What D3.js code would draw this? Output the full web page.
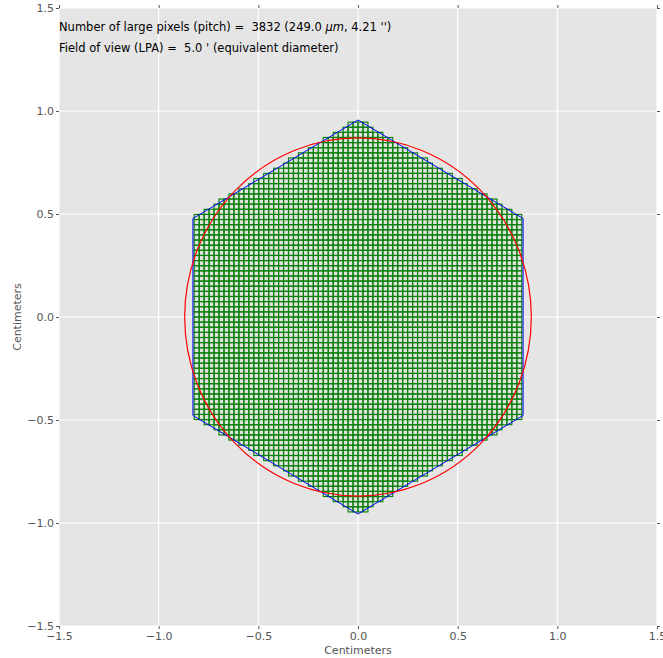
<!DOCTYPE html>
<html>
<head>
<meta charset="utf-8">
<script src="https://cdn.jsdelivr.net/npm/d3@7"></script>
<style>
  body { margin: 0; background: #fff; }
  text { font-family: "DejaVu Sans", sans-serif; }
</style>
</head>
<body>
<svg id="chart" width="663" height="658"></svg>
<script>

// chart values
var xTicks = [-1.5, -1.0, -0.5, 0.0, 0.5, 1.0, 1.5];
var yTicks = [-1.5, -1.0, -0.5, 0.0, 0.5, 1.0, 1.5];
var pitchCm = 0.0249;        // pixel pitch in cm
var hexRadius = 0.9563;      // LPA hexagon, centre to corner (cm)
var circleRadius = 0.8695;   // equivalent diameter circle (cm)
var hexAngles = [90, 150, 210, 270, 330, 30];
var nPixels = 3832;
var pitchUm = '249.0';
var pitchArcsec = '4.21';
var fovArcmin = '5.0';

var margin = {left: 59, right: 6, top: 8, bottom: 32};
var W = 663, H = 658;
var svg = d3.select('#chart');

var x = d3.scaleLinear().domain([-1.5, 1.5]).range([margin.left, W - margin.right]);
var y = d3.scaleLinear().domain([-1.5, 1.5]).range([H - margin.bottom, margin.top]);

var fmt = function(d) { return d3.format('.1f')(d).replace('-', '\u2212'); };

// background
svg.append('rect')
  .attr('x', x(-1.5)).attr('y', y(1.5))
  .attr('width', x(1.5) - x(-1.5)).attr('height', y(-1.5) - y(1.5))
  .attr('fill', '#e5e5e5');

// grid
var grid = svg.append('g');
grid.selectAll('.vx').data(xTicks).enter().append('line')
  .attr('x1', function(d) { return x(d); }).attr('x2', function(d) { return x(d); })
  .attr('y1', y(1.5)).attr('y2', y(-1.5))
  .attr('stroke', '#fff').attr('stroke-width', 1.2);
grid.selectAll('.hy').data(yTicks).enter().append('line')
  .attr('y1', function(d) { return y(d); }).attr('y2', function(d) { return y(d); })
  .attr('x1', x(-1.5)).attr('x2', x(1.5))
  .attr('stroke', '#fff').attr('stroke-width', 1.2);

// axes (ticks out, no spine)
function styleAxis(g) {
  g.select('.domain').remove();
  g.selectAll('.tick line').attr('stroke', '#555');
  g.selectAll('.tick text').attr('fill', '#555').style('font-family', 'DejaVu Sans').style('font-size', '11px');
}
svg.append('g').attr('transform', 'translate(0,' + y(-1.5) + ')')
  .call(d3.axisBottom(x).tickValues(xTicks).tickFormat(fmt).tickSize(3).tickPadding(3))
  .call(styleAxis);
svg.append('g').attr('transform', 'translate(' + x(-1.5) + ',0)')
  .call(d3.axisLeft(y).tickValues(yTicks).tickFormat(fmt).tickSize(3).tickPadding(2))
  .call(styleAxis);
svg.append('g').attr('transform', 'translate(0,' + y(1.5) + ')')
  .call(d3.axisTop(x).tickValues(xTicks).tickFormat('').tickSize(3))
  .call(styleAxis);
svg.append('g').attr('transform', 'translate(' + x(1.5) + ',0)')
  .call(d3.axisRight(y).tickValues(yTicks).tickFormat('').tickSize(3))
  .call(styleAxis);

// large pixels inside the hexagon
var cells = [];
var nMax = Math.ceil(hexRadius / pitchCm) + 1;
var halfW = hexRadius * Math.sqrt(3) / 2;
for (var i = -nMax; i < nMax; ++i) {
  for (var j = -nMax; j < nMax; ++j) {
    var cx = (i + 0.5) * pitchCm, cy = (j + 0.5) * pitchCm;
    if (Math.abs(cx) <= halfW && Math.abs(cy) <= hexRadius - Math.abs(cx) / Math.sqrt(3)) {
      cells.push({x0: i * pitchCm, y0: j * pitchCm});
    }
  }
}

svg.append('g').selectAll('rect').data(cells).enter().append('rect')
  .attr('x', function(d) { return x(d.x0); })
  .attr('y', function(d) { return y(d.y0 + pitchCm); })
  .attr('width', x(pitchCm) - x(0))
  .attr('height', y(0) - y(pitchCm))
  .attr('fill', '#008000').attr('fill-opacity', 0.02)
  .attr('stroke', '#0a800a').attr('stroke-width', 1.15);

// hexagon outline
var hexPts = hexAngles.map(function(a) {
  var r = a * Math.PI / 180;
  return [hexRadius * Math.cos(r), hexRadius * Math.sin(r)];
});
svg.append('path')
  .attr('d', d3.line().x(function(d) { return x(d[0]); }).y(function(d) { return y(d[1]); })(hexPts) + 'Z')
  .attr('fill', 'none').attr('stroke', '#0000ff').attr('stroke-width', 1.0);

// equivalent circle
svg.append('ellipse')
  .attr('cx', x(0)).attr('cy', y(0))
  .attr('rx', x(circleRadius) - x(0)).attr('ry', y(0) - y(circleRadius))
  .attr('fill', 'none').attr('stroke', '#ff0000').attr('stroke-width', 1.2);

// labels
svg.append('text')
  .attr('x', (x(-1.5) + x(1.5)) / 2).attr('y', 654)
  .attr('text-anchor', 'middle').attr('fill', '#555').style('font-size', '11px')
  .text('Centimeters');
svg.append('text')
  .attr('transform', 'translate(21,' + y(0) + ') rotate(-90)')
  .attr('text-anchor', 'middle').attr('fill', '#555').style('font-size', '11px')
  .text('Centimeters');

var t1 = svg.append('text').attr('x', 59).attr('y', 31).attr('fill', '#000').style('font-size', '11.5px');
t1.append('tspan').text('Number of large pixels (pitch) =\u00a0\u00a0' + nPixels + ' (' + pitchUm + ' ');
t1.append('tspan').attr('font-style', 'italic').text('\u03bcm');
t1.append('tspan').text(', ' + pitchArcsec + " '')");

svg.append('text').attr('x', 59).attr('y', 52).attr('fill', '#000').style('font-size', '11.5px')
  .text('Field of view (LPA) =\u00a0\u00a0' + fovArcmin + " ' (equivalent diameter)");

</script>
</body>
</html>
